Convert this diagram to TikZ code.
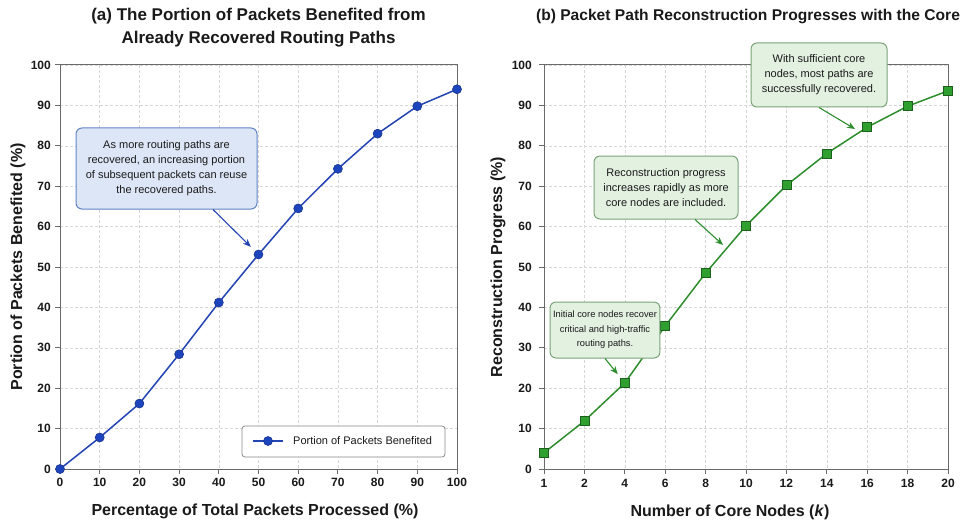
\documentclass[tikz,border=0pt]{standalone}
\usepackage{fontspec}
\setmainfont{Liberation Sans}
\usetikzlibrary{arrows.meta, positioning}
\definecolor{LineB} {HTML}{2344B2}
\definecolor{MarkB} {HTML}{1C44BC}
\definecolor{BoxB}  {HTML}{DCE6F7}
\definecolor{EdgeB} {HTML}{6183C2}
\definecolor{LineG} {HTML}{2E8E2E}
\definecolor{MarkG} {HTML}{2FA02F}
\definecolor{EdgeMG}{HTML}{1D601D}
\definecolor{BoxG}  {HTML}{E3F1E1}
\definecolor{EdgeG} {HTML}{7AA37A}
\definecolor{GridC} {HTML}{D6D6D6}
\definecolor{AxC}   {HTML}{6A6A6A}
\definecolor{TxtC}  {HTML}{1A1A1A}
\tikzset{
  ttl/.style={font=\fontsize{17}{23}\selectfont\bfseries, text=TxtC, align=center},
  axlbl/.style={font=\fontsize{16}{18}\selectfont\bfseries, text=TxtC, inner sep=0pt},
  tck/.style={font=\fontsize{12}{14}\selectfont\bfseries, text=TxtC, inner sep=0pt},
  grd/.style={draw=GridC, dash pattern=on 3pt off 2pt, line width=0.6pt},
  frm/.style={draw=AxC, line width=1pt},
  note/.style args={#1/#2}{
    rectangle, rounded corners=6pt,
    draw=#1, fill=#2, text=TxtC, align=center,
    font=\fontsize{11}{15}\selectfont,
    inner sep=3pt, line width=1pt,
  },
  arr/.style args={#1}{
    -{Stealth[length=8pt,width=6.5pt]},
    line width=1.1pt, color=#1,
  },
  lnA/.style={draw=LineB, line width=1.5pt},
  lnB/.style={draw=LineG, line width=1.5pt},
  dotA/.style={circle, fill=MarkB, draw=LineB!80!black, line width=0.6pt,
    minimum size=9pt, inner sep=0pt},
  sqB/.style={rectangle, fill=MarkG, draw=EdgeMG, line width=0.8pt,
    minimum size=9pt, inner sep=0pt},
  legbox/.style={rectangle, rounded corners=3pt, draw=AxC!80, fill=white,
    line width=0.8pt, minimum width=203pt, minimum height=31pt},
}
\begin{document}
\begin{tikzpicture}[x=1pt,y=-1pt]
  \useasboundingbox[fill=white] (0,0) rectangle (971,524);

  % ===== (a) packets benefited
  \node[ttl] (ttlA) at (258.5,28) {(a) The Portion of Packets Benefited from\\Already Recovered Routing Paths};
  \foreach \v in {0,10,...,100}{
    \draw[grd] ({60+3.97*\v},65) -- ({60+3.97*\v},469);
    \draw[frm] ({60+3.97*\v},469) -- ({60+3.97*\v},474);
    \node[tck, anchor=north] (xa\v) at ({60+3.97*\v},478) {\v};
  }
  \foreach \v in {0,10,...,100}{
    \draw[grd] (60,{469-4.04*\v}) -- (457,{469-4.04*\v});
    \draw[frm] (55,{469-4.04*\v}) -- (60,{469-4.04*\v});
    \node[tck, anchor=east] (ya\v) at (51,{469-4.04*\v}) {\v};
  }
  \draw[frm] (60,65) rectangle (457,469);
  \node[axlbl] (xlA) at (255,511) {Percentage of Total Packets Processed (\%)};
  \node[axlbl, rotate=90] (ylA) at (18,267) {Portion of Packets Benefited (\%)};

  \foreach \n/\v/\p in {0/0/0, 1/10/7.8, 2/20/16.2, 3/30/28.4, 4/40/41.2,
                        5/50/53.1, 6/60/64.5, 7/70/74.3, 8/80/83.0,
                        9/90/89.8, 10/100/94.0}{
    \coordinate (pa\n) at ({60+3.97*\v},{469-4.04*\p});
  }
  \draw[lnA] (pa0) \foreach \n in {1,...,10}{ -- (pa\n)};
  \foreach \n in {0,...,10}{ \node[dotA] (ma\n) at (pa\n) {}; }

  \node[note=EdgeB/BoxB, minimum width=181pt, minimum height=81pt] (noteA) at (166.5,168.5)
    {As more routing paths are\\recovered, an increasing portion\\of subsequent packets can reuse\\the recovered paths.};
  \draw[arr=LineB, shorten >=6pt] ([xshift=46.5pt]noteA.south) -- (ma5);

  \node[legbox] (legA) at (343.5,441.5) {};
  \coordinate (lgL) at (253,441);
  \coordinate (lgR) at (283,441);
  \draw[lnA] (lgL) -- (lgR);
  \node[dotA] (lgM) at (268,441) {};
  \node[font=\fontsize{11}{13}\selectfont, text=TxtC, inner sep=0pt, right=10pt of lgR] (lgT) {Portion of Packets Benefited};

  % ===== (b) reconstruction progress
  \node[ttl, font=\fontsize{15.6}{20}\selectfont\bfseries] (ttlB) at (748,17) {(b) Packet Path Reconstruction Progresses with the Core};
  \foreach \i/\k in {0/1, 1/2, 2/4, 3/6, 4/8, 5/10, 6/12, 7/14, 8/16, 9/18, 10/20}{
    \draw[grd] ({544+40.4*\i},65) -- ({544+40.4*\i},469);
    \draw[frm] ({544+40.4*\i},469) -- ({544+40.4*\i},474);
    \node[tck, anchor=north] (xb\i) at ({544+40.4*\i},479) {\k};
  }
  \foreach \v in {0,10,...,100}{
    \draw[grd] (544,{469-4.04*\v}) -- (948,{469-4.04*\v});
    \draw[frm] (539,{469-4.04*\v}) -- (544,{469-4.04*\v});
    \node[tck, anchor=east] (yb\v) at (532,{469-4.04*\v}) {\v};
  }
  \draw[frm] (544,65) rectangle (948,469);
  \node[axlbl] (xlB) at (730,512) {Number of Core Nodes (\textit{k})};
  \node[axlbl, rotate=90] (ylB) at (498,267) {Reconstruction Progress (\%)};

  \foreach \i/\p in {0/4.0, 1/11.9, 2/21.3, 3/35.4, 4/48.5, 5/60.2,
                     6/70.2, 7/78.1, 8/84.6, 9/89.8, 10/93.6}{
    \coordinate (pb\i) at ({544+40.4*\i},{469-4.04*\p});
  }
  \draw[lnB] (pb0) \foreach \i in {1,...,10}{ -- (pb\i)};
  \foreach \i in {0,...,10}{ \node[sqB] (mb\i) at (pb\i) {}; }

  \node[note=EdgeG/BoxG, minimum width=136pt, minimum height=64pt] (noteB1) at (819,75)
    {With sufficient core\\nodes, most paths are\\successfully recovered.};
  \node[note=EdgeG/BoxG, minimum width=144pt, minimum height=63pt] (noteB2) at (666,187.5)
    {Reconstruction progress\\increases rapidly as more\\core nodes are included.};
  \node[note=EdgeG/BoxG, minimum width=108pt, minimum height=56pt,
        font=\fontsize{9.3}{14.5}\selectfont] (noteB3) at (605,330)
    {Initial core nodes recover\\critical and high-traffic\\routing paths.};

  \coordinate (hitB1) at (855,129);
  \coordinate (hitB2) at (723,245);
  \draw[arr=LineG] (noteB1.south) -- (hitB1);
  \draw[arr=LineG] ([xshift=29pt]noteB2.south) -- (hitB2);
  \draw[arr=LineG, shorten >=5pt] (noteB3.south) -- (mb2);
\end{tikzpicture}
\end{document}
